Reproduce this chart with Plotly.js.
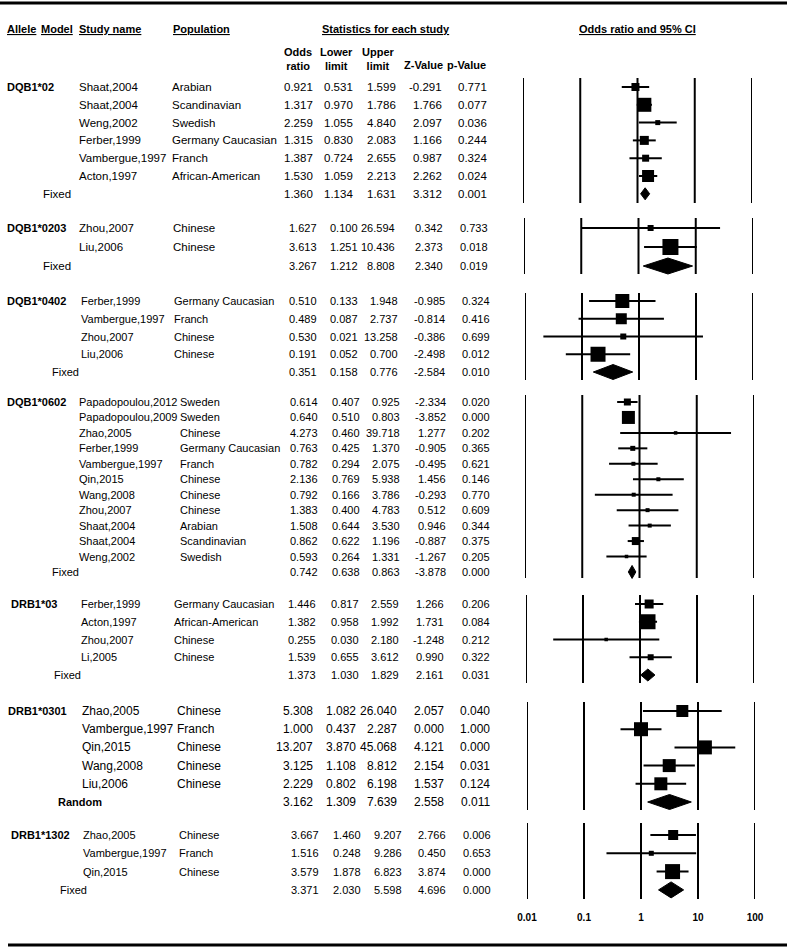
<!DOCTYPE html>
<html><head><meta charset="utf-8">
<script src="https://cdn.plot.ly/plotly-3.0.1.min.js"></script>
<style>html,body{margin:0;padding:0;background:#fff;} #chart{width:787px;height:950px;}</style>
</head><body><div id="chart"></div>
<script>
// ---------------- DATA ----------------
const alleles = ['DQB1*02','DQB1*0203','DQB1*0402','DQB1*0602','DRB1*03','DRB1*0301','DRB1*1302'];
const rowAllele = [0,0,0,0,0,0,0, 1,1,1, 2,2,2,2,2, 3,3,3,3,3,3,3,3,3,3,3,3, 4,4,4,4,4, 5,5,5,5,5,5, 6,6,6,6];
const studyName = [
  'Shaat,2004','Shaat,2004','Weng,2002','Ferber,1999','Vambergue,1997','Acton,1997','',
  'Zhou,2007','Liu,2006','',
  'Ferber,1999','Vambergue,1997','Zhou,2007','Liu,2006','',
  'Papadopoulou,2012','Papadopoulou,2009','Zhao,2005','Ferber,1999','Vambergue,1997','Qin,2015','Wang,2008','Zhou,2007','Shaat,2004','Shaat,2004','Weng,2002','',
  'Ferber,1999','Acton,1997','Zhou,2007','Li,2005','',
  'Zhao,2005','Vambergue,1997','Qin,2015','Wang,2008','Liu,2006','',
  'Zhao,2005','Vambergue,1997','Qin,2015',''
];
const population = [
  'Arabian','Scandinavian','Swedish','Germany Caucasian','Franch','African-American','',
  'Chinese','Chinese','',
  'Germany Caucasian','Franch','Chinese','Chinese','',
  'Sweden','Sweden','Chinese','Germany Caucasian','Franch','Chinese','Chinese','Chinese','Arabian','Scandinavian','Swedish','',
  'Germany Caucasian','African-American','Chinese','Chinese','',
  'Chinese','Franch','Chinese','Chinese','Chinese','',
  'Chinese','Franch','Chinese',''
];
const modelLabel = [
  '','','','','','','Fixed',
  '','','Fixed',
  '','','','','Fixed',
  '','','','','','','','','','','','Fixed',
  '','','','','Fixed',
  '','','','','','Random',
  '','','','Fixed'
];
const oddsRatio = [
  0.921,1.317,2.259,1.315,1.387,1.530,1.360,
  1.627,3.613,3.267,
  0.510,0.489,0.530,0.191,0.351,
  0.614,0.640,4.273,0.763,0.782,2.136,0.792,1.383,1.508,0.862,0.593,0.742,
  1.446,1.382,0.255,1.539,1.373,
  5.308,1.000,13.207,3.125,2.229,3.162,
  3.667,1.516,3.579,3.371
];
const lowerLimit = [
  0.531,0.970,1.055,0.830,0.724,1.059,1.134,
  0.100,1.251,1.212,
  0.133,0.087,0.021,0.052,0.158,
  0.407,0.510,0.460,0.425,0.294,0.769,0.166,0.400,0.644,0.622,0.264,0.638,
  0.817,0.958,0.030,0.655,1.030,
  1.082,0.437,3.870,1.108,0.802,1.309,
  1.460,0.248,1.878,2.030
];
const upperLimit = [
  1.599,1.786,4.840,2.083,2.655,2.213,1.631,
  26.594,10.436,8.808,
  1.948,2.737,13.258,0.700,0.776,
  0.925,0.803,39.718,1.370,2.075,5.938,3.786,4.783,3.530,1.196,1.331,0.863,
  2.559,1.992,2.180,3.612,1.829,
  26.040,2.287,45.068,8.812,6.198,7.639,
  9.207,9.286,6.823,5.598
];
const zValue = [
  -0.291,1.766,2.097,1.166,0.987,2.262,3.312,
  0.342,2.373,2.340,
  -0.985,-0.814,-0.386,-2.498,-2.584,
  -2.334,-3.852,1.277,-0.905,-0.495,1.456,-0.293,0.512,0.946,-0.887,-1.267,-3.878,
  1.266,1.731,-1.248,0.990,2.161,
  2.057,0.000,4.121,2.154,1.537,2.558,
  2.766,0.450,3.874,4.696
];
const pValue = [
  0.771,0.077,0.036,0.244,0.324,0.024,0.001,
  0.733,0.018,0.019,
  0.324,0.416,0.699,0.012,0.010,
  0.020,0.000,0.202,0.365,0.621,0.146,0.770,0.609,0.344,0.375,0.205,0.000,
  0.206,0.084,0.212,0.322,0.031,
  0.040,1.000,0.000,0.031,0.124,0.011,
  0.006,0.653,0.000,0.000
];
// relative study weight (null = pooled estimate)
const studyWeight = [
  8,14,5,9,7,12,null,
  6,16,null,
  14,11,6,15,null,
  7,13,3.5,5,4,4,4,4,4,8,3.5,null,
  9,15,3.5,6,null,
  12,14,14,13,13,null,
  10,5,15,null
];
const tickVals = [0.01, 0.1, 1, 10, 100];
const tickText = ['0.01', '0.1', '1', '10', '100'];

// ---------------- LAYOUT CONFIG (positions / styles) ----------------
const W = 787, H = 950;
const FONT = '"Liberation Sans", Arial, sans-serif';
const sectionLayout = [
  {y0:87,  gap:17.8,  top:78,  bottom:203, ax:[523,752], fs:11.5, nfs:11.5, alleleX:7,  modelX:43, studyX:79, popX:172, cols:[313,353,396,442,487], dia:12},
  {y0:228, gap:19.0,  top:218, bottom:274, ax:[524,753], fs:11.5, nfs:11, alleleX:7,  modelX:43, studyX:79, popX:173, cols:[317,358,395,443,488], dia:16},
  {y0:301, gap:17.75, top:293, bottom:380, ax:[525,753], fs:11, nfs:11, alleleX:7,  modelX:52, studyX:81, popX:174, cols:[317,358,398,445,490], dia:15},
  {y0:402, gap:15.45, top:395, bottom:578, ax:[525,754], fs:11, nfs:11, alleleX:7,  modelX:52, studyX:79, popX:180, cols:[318,360,400,446,490], dia:13},
  {y0:604, gap:17.75, top:595, bottom:683, ax:[526,754], fs:11, nfs:11, alleleX:11, modelX:54, studyX:81, popX:174, cols:[316,359,399,444,490], dia:12},
  {y0:711, gap:18.2,  top:702, bottom:810, ax:[527,755], fs:12, nfs:12, alleleX:8,  modelX:58, studyX:82, popX:177, cols:[313,356,397,444,490], dia:15},
  {y0:835, gap:18.3,  top:823, bottom:899, ax:[527,755], fs:11, nfs:11, alleleX:11, modelX:60, studyX:83, popX:179, cols:[319,361,402,446,491], dia:16}
];

const traces = [];
const shapes = [];
const annotations = [];
const layout = {
  width: W, height: H,
  margin: {l:0, r:0, t:0, b:0, pad:0},
  paper_bgcolor: '#fff', plot_bgcolor: 'rgba(0,0,0,0)',
  showlegend: false,
  font: {family: FONT, color: '#000'},
  yaxis: {range: [H, 0], domain: [0, 1], visible: false, fixedrange: true}
};

function txt(x, y, text, opts) {
  opts = opts || {};
  annotations.push({
    xref: 'paper', yref: 'y', x: x / W, y: y, text: text, showarrow: false,
    xanchor: opts.anchor || 'left', yanchor: 'middle', align: opts.align || 'left',
    borderpad: 0, borderwidth: 0,
    font: {family: FONT, size: opts.size || 11, color: '#000', weight: opts.bold ? 'bold' : 'normal'}
  });
}

// Headers
const hdrY = 29;
txt(7, hdrY, '<u>Allele</u>', {bold: true});
txt(41, hdrY, '<u>Model</u>', {bold: true});
txt(79, hdrY, '<u>Study name</u>', {bold: true});
txt(173, hdrY, '<u>Population</u>', {bold: true});
txt(322, hdrY, '<u>Statistics for each study</u>', {bold: true});
txt(579, hdrY, '<u>Odds ratio and 95% CI</u>', {bold: true});
txt(298, 59, 'Odds<br>ratio', {bold: true, anchor: 'center', align: 'center'});
txt(336, 59, 'Lower<br>limit', {bold: true, anchor: 'center', align: 'center'});
txt(378, 59, 'Upper<br>limit', {bold: true, anchor: 'center', align: 'center'});
txt(423, 65, 'Z-Value', {bold: true, anchor: 'center'});
txt(467, 65, 'p-Value', {bold: true, anchor: 'center'});

// Sections
sectionLayout.forEach((s, k) => {
  const axId = k === 0 ? 'x' : 'x' + (k + 1);
  const axKey = k === 0 ? 'xaxis' : 'xaxis' + (k + 1);
  const isLast = k === sectionLayout.length - 1;
  layout[axKey] = {
    type: 'log', range: [-2, 2], domain: [s.ax[0] / W, s.ax[1] / W],
    anchor: isLast ? 'free' : 'y', position: isLast ? 1 - 910 / H : 0,
    showgrid: false, zeroline: false, showline: false, ticks: '',
    showticklabels: isLast, tickmode: 'array', tickvals: tickVals, ticktext: tickText,
    tickfont: {family: FONT, size: 10, color: '#000', weight: 'bold'},
    fixedrange: true, automargin: false
  };

  // reference lines
  tickVals.forEach(v => {
    shapes.push({type: 'line', xref: axId, yref: 'y', x0: v, x1: v, y0: s.top, y1: s.bottom,
      line: {color: '#000', width: 2}, layer: 'above'});
  });

  const idx = [];
  rowAllele.forEach((a, i) => { if (a === k) idx.push(i); });

  const lx = [], ly = [], mx = [], my = [], ms = [];
  idx.forEach((i, j) => {
    const y = s.y0 + j * s.gap;
    const isSummary = studyWeight[i] === null;
    if (j === 0) txt(s.alleleX, y, alleles[k], {bold: true, size: 11});
    if (isSummary) {
      txt(s.modelX, y, modelLabel[i], {size: modelLabel[i] === 'Random' ? 11 : s.fs, bold: modelLabel[i] === 'Random'});
      const h = s.dia / 2;
      traces.push({
        type: 'scatter', mode: 'lines', xaxis: axId, yaxis: 'y',
        x: [lowerLimit[i], oddsRatio[i], upperLimit[i], oddsRatio[i], lowerLimit[i]],
        y: [y, y - h, y, y + h, y],
        fill: 'toself', fillcolor: '#000', line: {color: '#000', width: 1}, hoverinfo: 'skip'
      });
    } else {
      txt(s.studyX, y, studyName[i], {size: s.fs});
      txt(s.popX, y, population[i], {size: s.fs});
      lx.push(lowerLimit[i], upperLimit[i], null);
      ly.push(y, y, null);
      mx.push(oddsRatio[i]); my.push(y); ms.push(studyWeight[i]);
    }
    const vals = [oddsRatio[i], lowerLimit[i], upperLimit[i], zValue[i], pValue[i]];
    vals.forEach((v, c) => txt(s.cols[c], y, v.toFixed(3), {anchor: 'right', size: s.nfs}));
  });
  traces.push({type: 'scatter', mode: 'lines', xaxis: axId, yaxis: 'y', x: lx, y: ly,
    line: {color: '#000', width: 2}, connectgaps: false, hoverinfo: 'skip'});
  traces.push({type: 'scatter', mode: 'markers', xaxis: axId, yaxis: 'y', x: mx, y: my,
    marker: {symbol: 'square', size: ms, color: '#000', opacity: 1, line: {width: 0}}, hoverinfo: 'skip'});
});

// frame lines
shapes.push({type: 'line', xref: 'paper', yref: 'y', x0: 0, x1: 1, y0: 3, y1: 3, line: {color: '#000', width: 3}});
shapes.push({type: 'line', xref: 'paper', yref: 'y', x0: 8 / W, x1: 1, y0: 945, y1: 945, line: {color: '#000', width: 3}});

layout.shapes = shapes;
layout.annotations = annotations;

Plotly.newPlot('chart', traces, layout, {staticPlot: true, displayModeBar: false});
</script>
</body></html>
